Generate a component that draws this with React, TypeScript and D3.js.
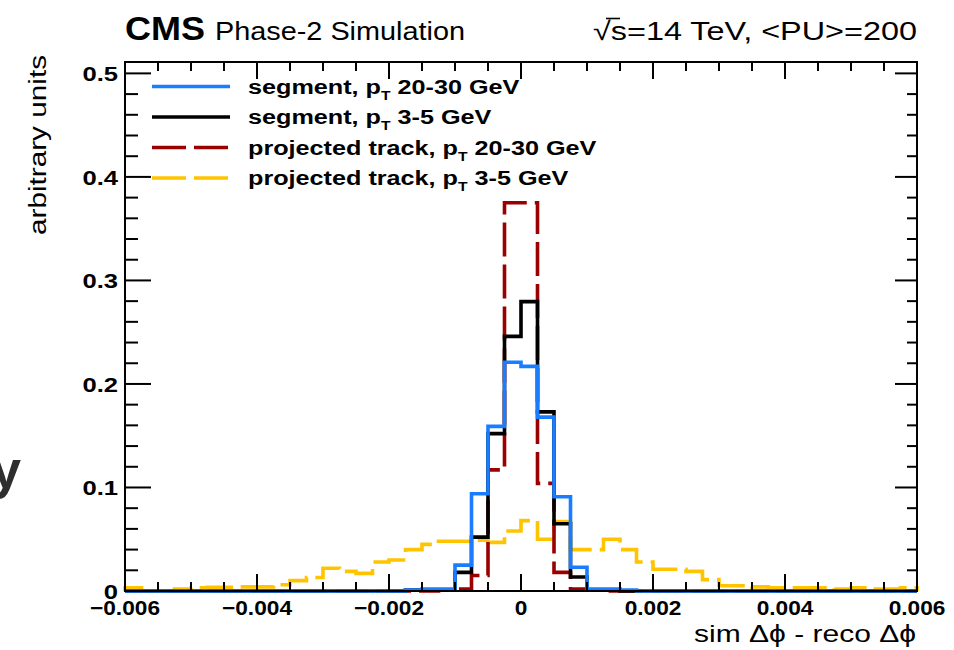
import React from 'react';
import * as d3 from 'd3';

// Histogram binning: 48 bins of 0.00025 over [-0.006, 0.006]
const X_MIN = -0.006;
const X_MAX = 0.006;
const BIN_WIDTH = 0.00025;

// Bin contents, left to right
const segmentHighPt = [
  0, 0, 0, 0, 0, 0, 0, 0, 0, 0, 0, 0, 0, 0, 0, 0, 0,
  0.001, 0.002, 0.002, 0.025, 0.094, 0.159, 0.221, 0.217, 0.168, 0.091, 0.023, 0.002, 0.002, 0.001,
  0, 0, 0, 0, 0, 0, 0, 0, 0, 0, 0, 0, 0, 0, 0, 0, 0,
];
const segmentLowPt = [
  0, 0, 0, 0, 0, 0, 0, 0, 0, 0, 0, 0, 0, 0, 0, 0, 0,
  0.001, 0.001, 0.001, 0.018, 0.052, 0.152, 0.246, 0.2795, 0.173, 0.065, 0.0135, 0.001, 0.001, 0,
  0, 0, 0, 0, 0, 0, 0, 0, 0, 0, 0, 0, 0, 0, 0, 0, 0,
];
const trackHighPt = [
  0, 0, 0, 0, 0, 0, 0, 0, 0, 0, 0, 0, 0, 0, 0, 0, 0, 0, 0,
  0.001, 0.002, 0.015, 0.117, 0.375, 0.375, 0.104, 0.018, 0.002, 0.001,
  0, 0, 0, 0, 0, 0, 0, 0, 0, 0, 0, 0, 0, 0, 0, 0, 0, 0, 0,
];
const trackLowPt = [
  0.003, 0, 0, 0.002, 0.003, 0.0035, 0.0035, 0.004, 0.004, 0.006, 0.01, 0.013,
  0.022, 0.019, 0.017, 0.028, 0.03, 0.04, 0.045, 0.048, 0.048, 0.049, 0.047, 0.058,
  0.068, 0.05, 0.067, 0.04, 0.04, 0.05, 0.04, 0.028, 0.021, 0.021, 0.019, 0.011,
  0.005, 0.005, 0.004, 0.003, 0.003, 0.003, 0.003, 0.002, 0.003, 0.002, 0.002, 0.003,
];

const xTickLabels = ['\u22120.006', '\u22120.004', '\u22120.002', '0', '0.002', '0.004', '0.006'];
const yTickLabels = ['0', '0.1', '0.2', '0.3', '0.4', '0.5'];

type Series = { label: string; sub: string; rest: string; values: number[]; color: string; dash?: string };

const series: Series[] = [
  { label: 'segment, p', sub: 'T', rest: ' 20-30 GeV', values: segmentHighPt, color: '#1a7dff' },
  { label: 'segment, p', sub: 'T', rest: ' 3-5 GeV', values: segmentLowPt, color: '#000000' },
  { label: 'projected track, p', sub: 'T', rest: ' 20-30 GeV', values: trackHighPt, color: '#9b0000', dash: '34 8' },
  { label: 'projected track, p', sub: 'T', rest: ' 3-5 GeV', values: trackLowPt, color: '#ffc400', dash: '34 8' },
];

const W = 954;
const H = 650;
const frame = { left: 125, right: 917, top: 62, bottom: 591 };
const FONT = 'Liberation Sans, Arial, Helvetica, sans-serif';

const x = d3.scaleLinear().domain([X_MIN, X_MAX]).range([frame.left, frame.right]);
const y = d3.scaleLinear().domain([0, 0.511]).range([frame.bottom, frame.top]);

function stepPath(values: number[]): string {
  const pts: [number, number][] = [[X_MIN, 0]];
  values.forEach((v, i) => {
    const lo = X_MIN + i * BIN_WIDTH;
    pts.push([lo, v], [lo + BIN_WIDTH, v]);
  });
  pts.push([X_MAX, 0]);
  return d3.line<[number, number]>().x(d => x(d[0])).y(d => y(d[1]))(pts) || '';
}

type TextProps = {
  x: number;
  y: number;
  anchor?: string;
  size: number;
  weight?: string;
  sx?: number;
  len?: number;
  children: React.ReactNode;
  fill?: string;
};

// Text with a horizontal stretch, either by a scale factor or to a fixed length
function SText(props: TextProps) {
  const { x: tx, y: ty, anchor = 'start', size, weight = 'normal', sx = 1.13, len, children, fill = '#000' } = props;
  if (len !== undefined) {
    return (
      <text
        x={tx}
        y={ty}
        textAnchor={anchor}
        fontSize={size}
        fontWeight={weight}
        fontFamily={FONT}
        fill={fill}
        textLength={len}
        lengthAdjust="spacingAndGlyphs"
      >
        {children}
      </text>
    );
  }
  return (
    <text
      transform={`translate(${tx},${ty}) scale(${sx},1)`}
      textAnchor={anchor}
      fontSize={size}
      fontWeight={weight}
      fontFamily={FONT}
      fill={fill}
    >
      {children}
    </text>
  );
}

export default function App() {
  const xMinor = d3.range(0, 25).map(i => X_MIN + i * 0.0005);
  const yMinor = d3.range(0, 26).map(i => i * 0.02);
  const isMajorX = (v: number) => Math.abs(Math.round(v / 0.002) * 0.002 - v) < 1e-9;
  const isMajorY = (v: number) => Math.abs(Math.round(v / 0.1) * 0.1 - v) < 1e-9;
  const xMajor = d3.range(0, 7).map(i => X_MIN + i * 0.002);
  const yMajor = d3.range(0, 6).map(i => i * 0.1);

  // draw order: widest first, narrow segment histograms on top
  const drawOrder = [3, 2, 1, 0];

  return (
    <svg width={W} height={H} style={{ position: 'absolute', left: 0, top: 0, background: '#fff' }}>
      <rect x={0} y={0} width={W} height={H} fill="#fff" />

      {/* clipped word fragment at the left edge */}
      <text x={-9} y={488} fontSize={54} fontWeight="bold" fontFamily={FONT} fill="#2e2e2e">y</text>

      {/* header */}
      <SText x={125} y={40} size={34} weight="bold" len={80}>CMS</SText>
      <SText x={215} y={40} size={25} len={250}>Phase-2 Simulation</SText>
      <SText x={593} y={40} size={26} len={324}>{'\u221As=14 TeV, <PU>=200'}</SText>
      <line x1={606} x2={620} y1={18.5} y2={18.5} stroke="#000" strokeWidth={1.6} />

      {/* histograms */}
      {drawOrder.map(i => {
        const s = series[i];
        return (
          <path
            key={i}
            d={stepPath(s.values)}
            fill="none"
            stroke={s.color}
            strokeWidth={3.6}
            strokeDasharray={s.dash}
            strokeLinejoin="miter"
          />
        );
      })}

      {/* frame */}
      <rect
        x={frame.left}
        y={frame.top}
        width={frame.right - frame.left}
        height={frame.bottom - frame.top}
        fill="none"
        stroke="#000"
        strokeWidth={2}
      />

      {/* x ticks bottom and top */}
      {xMinor.map((v, i) => {
        const len = isMajorX(v) ? 17 : 9;
        const px = x(v);
        return (
          <g key={`xt${i}`} stroke="#000" strokeWidth={2}>
            <line x1={px} x2={px} y1={frame.bottom} y2={frame.bottom - len} />
            <line x1={px} x2={px} y1={frame.top} y2={frame.top + len} />
          </g>
        );
      })}

      {/* y ticks left and right */}
      {yMinor.map((v, i) => {
        const major = isMajorY(v);
        const py = y(v);
        return (
          <g key={`yt${i}`} stroke="#000" strokeWidth={2}>
            <line x1={frame.left} x2={frame.left + (major ? 26 : 13)} y1={py} y2={py} />
            <line x1={frame.right} x2={frame.right - (major ? 22 : 10)} y1={py} y2={py} />
          </g>
        );
      })}

      {/* tick labels */}
      {xMajor.map((v, i) => (
        <SText key={`xl${i}`} x={x(v)} y={615} size={21} anchor="middle" weight="bold" sx={1.08}>
          {xTickLabels[i]}
        </SText>
      ))}
      {yMajor.map((v, i) => (
        <SText key={`yl${i}`} x={118} y={y(v) + 8} size={21} anchor="end" weight="bold" sx={1.22}>
          {yTickLabels[i]}
        </SText>
      ))}

      {/* axis titles */}
      <SText x={694} y={642} size={24} len={222}>{'sim \u0394\u03D5 - reco \u0394\u03D5'}</SText>
      <text
        transform={`translate(46,235) rotate(-90)`}
        fontSize={23}
        fontFamily={FONT}
        fill="#000"
        textLength={180}
        lengthAdjust="spacingAndGlyphs"
      >
        arbitrary units
      </text>

      {/* legend */}
      {series.map((s, i) => {
        const ly = 86.5 + i * 30.5;
        return (
          <g key={`lg${i}`}>
            <line x1={152} x2={230} y1={ly} y2={ly} stroke={s.color} strokeWidth={3.6} strokeDasharray={s.dash} />
            <text
              transform={`translate(248,${ly + 7}) scale(1.2,1)`}
              fontSize={21}
              fontWeight="bold"
              fontFamily={FONT}
              fill="#000"
            >
              {s.label}
              <tspan fontSize={13} dy={6}>{s.sub}</tspan>
              <tspan dy={-6}>{s.rest}</tspan>
            </text>
          </g>
        );
      })}
    </svg>
  );
}
